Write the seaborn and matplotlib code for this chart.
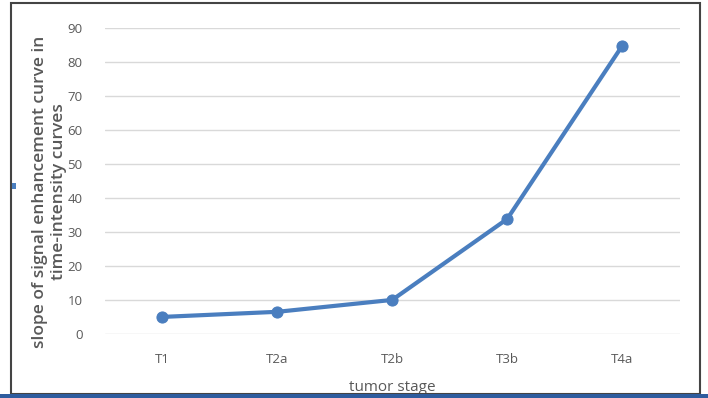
import matplotlib
matplotlib.use("Agg")
import matplotlib.pyplot as plt
import seaborn as sns
import pandas as pd
from matplotlib.patches import Rectangle

stages = ["T1", "T2a", "T2b", "T3b", "T4a"]
slopes = [5.0, 6.5, 10.0, 33.8, 84.7]
y_ticks = [0, 10, 20, 30, 40, 50, 60, 70, 80, 90]

sns.set_style("white")
plt.rcParams["font.family"] = ["Open Sans", "DejaVu Sans"]

df = pd.DataFrame({"stage": stages, "slope": slopes})
LINE = "#4a7ebf"
TXT = "#595959"

fig = plt.figure(figsize=(7.08, 3.98), dpi=100)
ax = fig.add_axes([0.148, 0.161, 0.812, 0.769])

sns.lineplot(data=df, x="stage", y="slope", ax=ax, color=LINE, linewidth=3,
             marker="o", markersize=8, markeredgecolor=LINE, sort=False)

ax.set_xlim(-0.5, 4.5)
ax.set_ylim(0, 90)
ax.set_yticks(y_ticks)
ax.yaxis.grid(True, color="#d9d9d9", linewidth=1)
ax.set_axisbelow(True)
for s in ax.spines.values():
    s.set_visible(False)
ax.tick_params(axis="both", length=0, labelsize=9.5, labelcolor=TXT)
ax.tick_params(axis="y", pad=16)
ax.tick_params(axis="x", pad=14)
ax.set_xlabel("tumor stage", fontsize=11, color=TXT, labelpad=10)
ax.set_ylabel("slope of signal enhancement curve in\ntime-intensity curves",
              fontsize=12.5, color=TXT, fontweight="semibold")
ax.yaxis.set_label_coords(-0.066, 0.464)

# outer frame of the chart
fig.patches.append(Rectangle((11 / 708, 4 / 398), 689 / 708, 391 / 398,
                             transform=fig.transFigure, fill=False,
                             edgecolor="#444444", linewidth=1.5))
fig.patches.append(Rectangle((0, 0), 1, 4 / 398, transform=fig.transFigure,
                             facecolor="#2e5c9e", edgecolor="none"))
fig.patches.append(Rectangle((12 / 708, 209 / 398), 4 / 708, 6 / 398,
                             transform=fig.transFigure, facecolor="#4a7ebf",
                             edgecolor="none"))

fig.savefig("out.png", dpi=100)
